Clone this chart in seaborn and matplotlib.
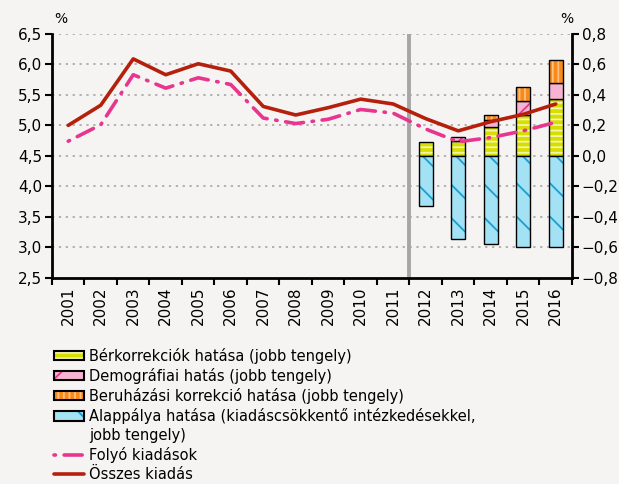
import numpy as np
import matplotlib
matplotlib.use("Agg")
import matplotlib.pyplot as plt
import seaborn as sns
from matplotlib.patches import Patch
from matplotlib.lines import Line2D

years = [str(y) for y in range(2001, 2017)]
total_spend = [5.00, 5.33, 6.09, 5.83, 6.01, 5.89, 5.31, 5.17, 5.29, 5.43, 5.35, 5.11, 4.91, 5.06, 5.18, 5.35]
current_spend = [4.74, 5.01, 5.83, 5.61, 5.78, 5.67, 5.12, 5.03, 5.10, 5.26, 5.20, 4.94, 4.73, 4.80, 4.91, 5.05]

bar_years = ["2012", "2013", "2014", "2015", "2016"]
wage_eff = [0.09, 0.10, 0.19, 0.27, 0.37]
demog_eff = [0.00, 0.025, 0.045, 0.09, 0.11]
invest_eff = [0.00, 0.00, 0.035, 0.09, 0.15]
base_eff = [-0.33, -0.545, -0.58, -0.60, -0.60]

left_ticks = [2.5, 3.0, 3.5, 4.0, 4.5, 5.0, 5.5, 6.0, 6.5]
right_ticks = [-0.8, -0.6, -0.4, -0.2, 0.0, 0.2, 0.4, 0.6, 0.8]

labels = ["Bérkorrekciók hatása (jobb tengely)",
          "Demográfiai hatás (jobb tengely)",
          "Beruházási korrekció hatása (jobb tengely)",
          "Alappálya hatása (kiadáscsökkentő intézkedésekkel,",
          "jobb tengely)",
          "Folyó kiadások",
          "Összes kiadás"]

bg = "#f5f4f2"
sns.set_style("ticks")
plt.rcParams["font.family"] = ["DejaVu Sans"]
plt.rcParams["hatch.linewidth"] = 1.3
for k in ("text.color", "xtick.color", "ytick.color", "axes.edgecolor", "axes.labelcolor"):
    plt.rcParams[k] = "black"

fig = plt.figure(figsize=(6.19, 4.84), dpi=100, facecolor=bg)
ax = fig.add_axes([0.084, 0.426, 0.84, 0.504])
ax2 = ax.twinx()
ax.set_zorder(ax2.get_zorder() + 1)
ax.patch.set_visible(False)
ax2.patch.set_visible(False)

pos = np.arange(len(years))
bpos = np.array([years.index(y) for y in bar_years])

# (fill colour, hatch colour, hatch) per bar series
styles = {
    "wage": ("#d7df00", "#f3f5a8", "---"),
    "demog": ("#f7b3d2", "#e8368f", "/"),
    "invest": ("#f98a1a", "#ffc080", "|||"),
    "base": ("#a3e1f4", "#1a9fd0", "\\"),
}
values = {"wage": wage_eff, "demog": demog_eff, "invest": invest_eff}

# stacked bars on right axis: fill+hatch first, then black outline
bottom = np.zeros(len(bar_years))
w = 0.42
for key in ("wage", "demog", "invest"):
    fc, hc, hatch = styles[key]
    v = np.array(values[key])
    ax2.bar(bpos, v, w, bottom=bottom, color=fc, edgecolor=hc, hatch=hatch, linewidth=0)
    ax2.bar(bpos, np.where(v > 0, v, np.nan), w, bottom=bottom, fill=False, edgecolor="black", linewidth=1)
    bottom += v
fc, hc, hatch = styles["base"]
ax2.bar(bpos, base_eff, w, color=fc, edgecolor=hc, hatch=hatch, linewidth=0)
ax2.bar(bpos, base_eff, w, fill=False, edgecolor="black", linewidth=1)

# lines on left axis
sns.lineplot(x=pos, y=total_spend, ax=ax, color="#b5200d", linewidth=2.6)
sns.lineplot(x=pos, y=current_spend, ax=ax, color="#e8368f", linewidth=2.6)
ax.lines[-1].set_dashes([0.4, 2.4, 5, 2.4])
ax.lines[-1].set_dash_capstyle("round")

ax.axvline(10.5, color="#a6a6a6", linewidth=2.8, zorder=1)

ax.set_xlim(-0.5, 15.5)
ax.set_ylim(2.5, 6.5)
ax2.set_ylim(-0.8, 0.8)
ax.set_yticks(left_ticks)
ax.set_yticklabels([f"{t:.1f}".replace(".", ",") for t in left_ticks], fontsize=11)
ax2.set_yticks(right_ticks)
ax2.set_yticklabels([f"{t:.1f}".replace(".", ",").replace("-", "\u2212") for t in right_ticks], fontsize=11)
ax.set_xticks(pos)
ax.set_xticklabels(years, rotation=90, fontsize=11)
ax.set_xticks(np.arange(-0.5, 16, 1), minor=True)
ax.tick_params(axis="x", which="major", length=0, pad=6)
ax.tick_params(axis="x", which="minor", length=5, width=1.5, direction="out")
ax.tick_params(axis="y", length=5, width=1.5, direction="out", pad=2)
ax2.tick_params(axis="y", length=5, width=1.5, direction="out", pad=2)

for t in right_ticks[1:]:
    ax2.axhline(t, color="#a0a0a0", linestyle=(0, (1.5, 3)), linewidth=1.1, zorder=0)

for a in (ax, ax2):
    a.spines["top"].set_visible(False)
    for s in ("left", "right", "bottom"):
        a.spines[s].set_linewidth(2)
ax.spines["right"].set_visible(False)
ax2.spines["left"].set_visible(False)
ax2.spines["bottom"].set_visible(False)
ax.set_xlabel("")

fig.text(0.088, 0.952, "%", fontsize=10)
fig.text(0.905, 0.952, "%", fontsize=10)


def bar_handle(key):
    fc, hc, hatch = styles[key]
    return (Patch(facecolor=fc, edgecolor=hc, hatch=hatch, linewidth=0),
            Patch(facecolor="none", edgecolor="black", linewidth=1.5))


handles = [
    bar_handle("wage"),
    bar_handle("demog"),
    bar_handle("invest"),
    bar_handle("base"),
    Patch(facecolor="none", edgecolor="none"),
    Line2D([], [], color="#e8368f", linewidth=2.6, dashes=[0.4, 2.4, 5, 2.4],
           dash_capstyle="round"),
    Line2D([], [], color="#b5200d", linewidth=2.6),
]
fig.legend(handles, labels, loc="upper left", bbox_to_anchor=(0.088, 0.282),
           frameon=False, fontsize=10.5, handlelength=2.0, handleheight=0.65,
           handletextpad=0.4, labelspacing=0.28, borderpad=0, borderaxespad=0)

fig.savefig("out.png", dpi=100, facecolor=bg)
